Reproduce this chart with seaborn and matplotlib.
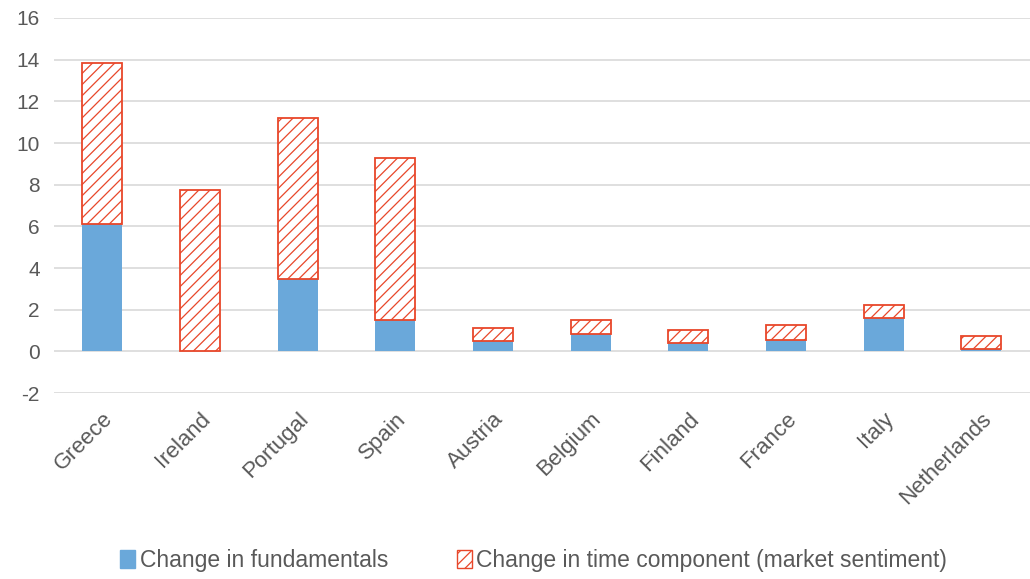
import pandas as pd
import seaborn as sns
import matplotlib.pyplot as plt
from matplotlib.patches import Patch

countries = ['Greece', 'Ireland', 'Portugal', 'Spain', 'Austria', 'Belgium',
             'Finland', 'France', 'Italy', 'Netherlands']
fundamentals = [6.1, 0.0, 3.47, 1.53, 0.48, 0.85, 0.42, 0.56, 1.6, 0.1]
time_component = [7.72, 7.75, 7.72, 7.74, 0.64, 0.67, 0.63, 0.72, 0.64, 0.63]

data = pd.DataFrame({'country': countries,
                     'fundamentals': fundamentals,
                     'time': time_component})

sns.set_style('white')
plt.rcParams['font.family'] = ['Liberation Sans', 'DejaVu Sans']
plt.rcParams['axes.unicode_minus'] = False
plt.rcParams['hatch.linewidth'] = 0.9

blue = '#6aa8da'
red = '#e8472a'
grey = '#595959'

fig = plt.figure(figsize=(10.3, 5.79), dpi=100)
ax = fig.add_axes([0.052, 0.321, 0.948, 0.648])

sns.barplot(data=data, x='country', y='fundamentals', color=blue, width=0.41,
            edgecolor=blue, linewidth=0, saturation=1, ax=ax, zorder=3)
sns.barplot(data=data, x='country', y='time', bottom=data.fundamentals,
            width=0.41, ax=ax, zorder=3, fill=False, saturation=1,
            color=red, linewidth=1.3)
for p in ax.patches[len(countries):]:
    p.set_facecolor('white')
    p.set_fill(True)
    p.set_edgecolor(red)
    p.set_hatch('///')

ax.set_ylim(-2, 16)
ax.set_yticks(range(-2, 17, 2))
ax.set_xlim(-0.5, len(countries) - 0.5)
ax.yaxis.grid(True, color='#d9d9d9', linewidth=1.2, zorder=0)
ax.set_axisbelow(True)
for s in ax.spines.values():
    s.set_visible(False)
ax.set_xlabel('')
ax.set_ylabel('')
ax.tick_params(axis='y', length=0, labelsize=15, colors=grey, pad=10)
ax.tick_params(axis='x', length=0, labelsize=16, colors=grey, pad=11)
plt.setp(ax.get_xticklabels(), rotation=45, ha='right', rotation_mode='anchor')

handles = [Patch(facecolor=blue, edgecolor=blue, label='Change in fundamentals'),
           Patch(facecolor='white', edgecolor=red, hatch='///',
                 label='Change in time component (market sentiment)')]
leg = fig.legend(handles=handles, loc='center', bbox_to_anchor=(0.518, 0.032),
                 ncol=2, frameon=False, fontsize=16.5, handlelength=0.65,
                 handleheight=0.8, handletextpad=0.2, columnspacing=3.0)
for t in leg.get_texts():
    t.set_color(grey)

plt.savefig('out.png', dpi=100)
